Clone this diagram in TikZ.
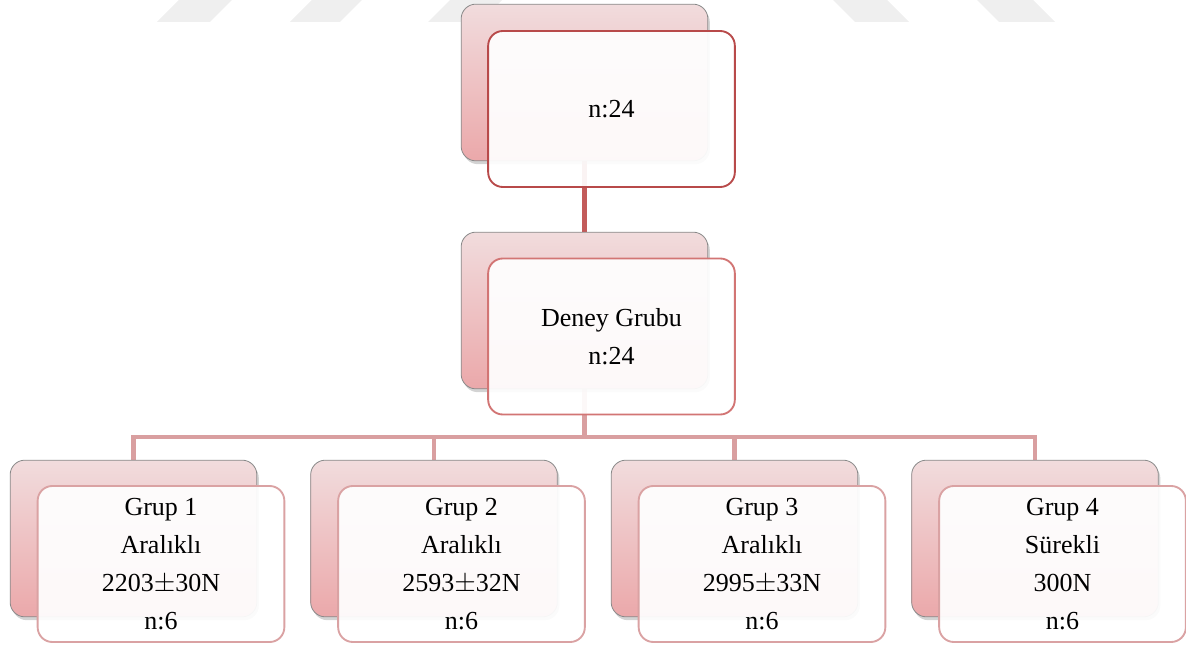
\documentclass[tikz,border=0pt]{standalone}
\usepackage{fontspec}
\setmainfont{Liberation Serif}
\usetikzlibrary{shadows,backgrounds}

\definecolor{wmgray}{HTML}{EFEFEF}
\definecolor{backtop}{HTML}{F1DCDD}
\definecolor{backbot}{HTML}{EBA8AA}
\definecolor{backedge}{HTML}{8A8A8A}
\definecolor{edgeA}{HTML}{B84A4A}
\definecolor{edgeB}{HTML}{D27574}
\definecolor{edgeC}{HTML}{DAA2A3}
\definecolor{linkA}{HTML}{C35B5A}
\definecolor{linkB}{HTML}{D99FA0}

\begin{document}
\begin{tikzpicture}[x=0.75pt,y=-0.75pt,
  backbox/.style={rounded corners=11pt, minimum width=185pt, minimum height=117.5pt,
    inner sep=0pt, draw=backedge, line width=0.6pt, top color=backtop, bottom color=backbot,
    drop shadow={shadow xshift=1.5pt, shadow yshift=-2.5pt, opacity=0.35}},
  frontbox/.style={rounded corners=11pt, minimum width=185pt, minimum height=117pt,
    inner sep=0pt, line width=1.4pt, fill=white, fill opacity=0.93, text opacity=1,
    align=center, font=\fontsize{19.5}{28.5}\selectfont},
  link/.style={line width=3.6pt},
  mark stripe/.style={fill=wmgray}
]
\useasboundingbox (0,0) rectangle (1186,645);

% faint stripes along the top edge
\fill[mark stripe] (157,22) -- (210,22) -- (232,0) -- (179,0) -- cycle;
\fill[mark stripe] (290,22) -- (340,22) -- (362,0) -- (312,0) -- cycle;
\fill[mark stripe] (428,22) -- (480,22) -- (502,0) -- (450,0) -- cycle;
\fill[mark stripe] (833,0) -- (887,0) -- (909,22) -- (855,22) -- cycle;
\fill[mark stripe] (977,0) -- (1033,0) -- (1055,22) -- (999,22) -- cycle;

% back cards
\node[backbox] (topb) at (584.5,82.5) {};
\node[backbox] (midb) at (584.5,310.5) {};
\node[backbox] (g1b) at (133.5,538.5) {};
\node[backbox] (g2b) at (434,538.5) {};
\node[backbox] (g3b) at (734.5,538.5) {};
\node[backbox] (g4b) at (1035,538.5) {};

% front cards with the labels
\node[frontbox, draw=edgeA] (topf) at (611.5,109) {n:24};
\node[frontbox, draw=edgeB] (midf) at (611.5,336.5) {Deney Grubu\\n:24};
\node[frontbox, draw=edgeC] (g1f) at (161,564) {Grup 1\\Aralıklı\\2203$\pm$30N\\n:6};
\node[frontbox, draw=edgeC] (g2f) at (461.5,564) {Grup 2\\Aralıklı\\2593$\pm$32N\\n:6};
\node[frontbox, draw=edgeC] (g3f) at (762,564) {Grup 3\\Aralıklı\\2995$\pm$33N\\n:6};
\node[frontbox, draw=edgeC] (g4f) at (1062.5,564) {Grup 4\\Sürekli\\300N\\n:6};

% connectors behind the cards
\coordinate (bus) at (584.5,437);
\begin{scope}[on background layer]
  \draw[link, draw=linkA] (topb.center) -- (midb.center);
  \draw[link, draw=linkB] (midb.center) -- (bus);
  \draw[link, draw=linkB, line join=miter] (bus) -| (g1b.center);
  \draw[link, draw=linkB] (bus) -| (g2b.center);
  \draw[link, draw=linkB] (bus) -| (g3b.center);
  \draw[link, draw=linkB, line join=miter] (bus) -| (g4b.center);
\end{scope}
\end{tikzpicture}
\end{document}
